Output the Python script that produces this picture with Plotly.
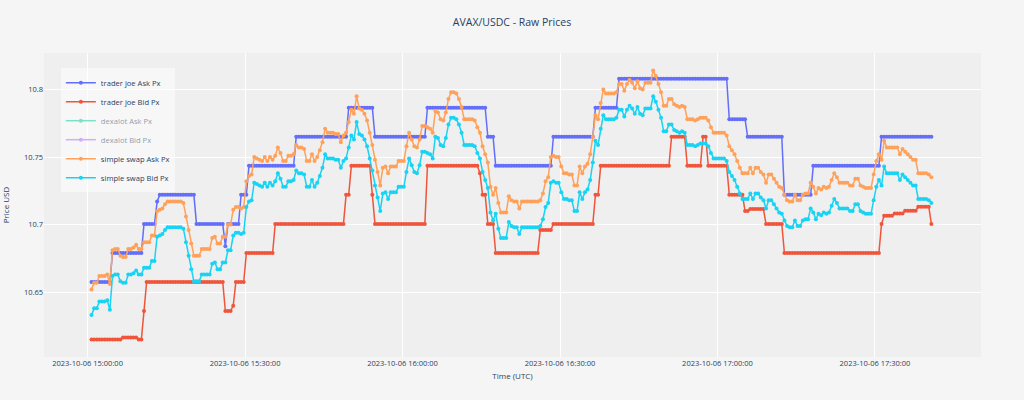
import pandas as pd
import plotly.graph_objects as go

# ---- data ----
start_time = "2023-10-06 15:00:45"
sample_step = "30s"

trader_joe_ask = ([10.6575]*8 + [10.679]*12 + [10.7005]*5 + [10.717] + [10.722]*14 +
                  [10.7005]*11 + [10.684] + [10.7005]*5 + [10.722]*3 + [10.7435]*18 +
                  [10.765]*20 + [10.7865]*10 + [10.765]*20 + [10.7865]*23 + [10.765]*3 +
                  [10.7435]*22 + [10.765]*16 + [10.7865]*9 + [10.808]*42 + [10.778]*7 +
                  [10.765]*14 + [10.722]*11 + [10.7435]*26 + [10.765]*20)

trader_joe_bid = ([10.615]*12 + [10.6165]*6 + [10.615]*2 + [10.636] + [10.6575]*30 +
                  [10.636]*3 + [10.640] + [10.6575]*4 + [10.679]*11 + [10.7005]*27 +
                  [10.722]*2 + [10.7435]*8 + [10.722] + [10.7005]*20 + [10.7435]*20 +
                  [10.738] + [10.722]*2 + [10.7005]*3 + [10.679]*17 + [10.696]*5 +
                  [10.7005]*16 + [10.722]*2 + [10.7435]*27 + [10.765]*6 + [10.7435]*6 +
                  [10.765]*2 + [10.7435]*8 + [10.722]*6 + [10.710]*2 + [10.7115]*6 +
                  [10.7005]*7 + [10.679]*37 + [10.7005] + [10.7066]*4 + [10.7083]*4 +
                  [10.7103]*5 + [10.7132]*5 + [10.7005])

simple_swap_ask = [
    10.652, 10.657, 10.657, 10.662, 10.662, 10.662, 10.663, 10.656, 10.681, 10.682,
    10.682, 10.677, 10.676, 10.676, 10.682, 10.682, 10.683, 10.685, 10.682, 10.682,
    10.687, 10.687, 10.687, 10.692, 10.692, 10.710, 10.711, 10.712, 10.715, 10.717,
    10.717, 10.717, 10.717, 10.717, 10.717, 10.716, 10.706, 10.696, 10.686, 10.677,
    10.677, 10.677, 10.682, 10.682, 10.682, 10.682, 10.690, 10.691, 10.686, 10.686,
    10.691, 10.691, 10.700, 10.700, 10.711, 10.713, 10.713, 10.712, 10.713, 10.732,
    10.736, 10.737, 10.750, 10.749, 10.748, 10.747, 10.750, 10.747, 10.750, 10.748,
    10.751, 10.757, 10.753, 10.747, 10.747, 10.751, 10.751, 10.752, 10.759, 10.757,
    10.757, 10.756, 10.747, 10.747, 10.752, 10.747, 10.750, 10.755, 10.761, 10.771,
    10.768, 10.768, 10.768, 10.767, 10.767, 10.761, 10.766, 10.768, 10.776, 10.785,
    10.782, 10.795, 10.786, 10.785, 10.782, 10.777, 10.768, 10.759, 10.748, 10.739,
    10.729, 10.742, 10.743, 10.738, 10.743, 10.743, 10.743, 10.747, 10.747, 10.747,
    10.758, 10.768, 10.763, 10.758, 10.757, 10.763, 10.773, 10.773, 10.772, 10.771,
    10.768, 10.784, 10.783, 10.778, 10.777, 10.783, 10.793, 10.798, 10.798, 10.797,
    10.793, 10.787, 10.778, 10.778, 10.778, 10.778, 10.777, 10.772, 10.768, 10.758,
    10.752, 10.746, 10.728, 10.722, 10.727, 10.716, 10.709, 10.709, 10.709, 10.721,
    10.718, 10.717, 10.717, 10.712, 10.717, 10.717, 10.717, 10.717, 10.717, 10.717,
    10.717, 10.718, 10.723, 10.732, 10.735, 10.750, 10.751, 10.750, 10.750, 10.743,
    10.738, 10.738, 10.737, 10.737, 10.729, 10.729, 10.743, 10.738, 10.743, 10.745,
    10.752, 10.765, 10.781, 10.778, 10.790, 10.800, 10.797, 10.797, 10.797, 10.797,
    10.798, 10.804, 10.804, 10.799, 10.804, 10.807, 10.805, 10.801, 10.806, 10.801,
    10.800, 10.805, 10.805, 10.805, 10.814, 10.810, 10.804, 10.798, 10.788, 10.788,
    10.793, 10.793, 10.789, 10.788, 10.787, 10.788, 10.787, 10.778, 10.778, 10.778,
    10.777, 10.778, 10.779, 10.779, 10.779, 10.777, 10.772, 10.768, 10.768, 10.768,
    10.768, 10.768, 10.766, 10.758, 10.755, 10.752, 10.747, 10.742, 10.738, 10.738,
    10.738, 10.742, 10.738, 10.742, 10.742, 10.739, 10.737, 10.731, 10.737, 10.737,
    10.734, 10.731, 10.728, 10.727, 10.722, 10.718, 10.717, 10.717, 10.722, 10.718,
    10.718, 10.722, 10.723, 10.723, 10.731, 10.728, 10.723, 10.727, 10.726, 10.728,
    10.727, 10.728, 10.733, 10.738, 10.735, 10.731, 10.731, 10.731, 10.731, 10.729,
    10.729, 10.734, 10.734, 10.729, 10.728, 10.727, 10.727, 10.727, 10.737, 10.747,
    10.752, 10.748, 10.762, 10.757, 10.757, 10.757, 10.757, 10.757, 10.752, 10.756,
    10.754, 10.752, 10.750, 10.748, 10.748, 10.738, 10.738, 10.738, 10.738, 10.737,
    10.735,
]

simple_swap_bid = [
    10.633, 10.638, 10.638, 10.643, 10.643, 10.643, 10.644, 10.637, 10.662, 10.663,
    10.663, 10.658, 10.657, 10.657, 10.663, 10.663, 10.664, 10.666, 10.663, 10.663,
    10.668, 10.668, 10.668, 10.673, 10.673, 10.691, 10.692, 10.693, 10.696, 10.698,
    10.698, 10.698, 10.698, 10.698, 10.698, 10.697, 10.687, 10.677, 10.667, 10.658,
    10.658, 10.658, 10.663, 10.663, 10.663, 10.663, 10.671, 10.672, 10.667, 10.667,
    10.672, 10.672, 10.681, 10.681, 10.692, 10.694, 10.694, 10.693, 10.694, 10.713,
    10.717, 10.718, 10.731, 10.730, 10.729, 10.728, 10.731, 10.728, 10.731, 10.729,
    10.732, 10.738, 10.734, 10.728, 10.728, 10.732, 10.732, 10.733, 10.740, 10.738,
    10.738, 10.737, 10.728, 10.728, 10.733, 10.728, 10.731, 10.736, 10.742, 10.752,
    10.749, 10.749, 10.749, 10.748, 10.748, 10.742, 10.747, 10.749, 10.757, 10.766,
    10.763, 10.776, 10.767, 10.766, 10.763, 10.758, 10.749, 10.740, 10.729, 10.720,
    10.710, 10.723, 10.724, 10.719, 10.724, 10.724, 10.724, 10.728, 10.728, 10.728,
    10.739, 10.749, 10.744, 10.739, 10.738, 10.744, 10.754, 10.754, 10.753, 10.752,
    10.749, 10.765, 10.764, 10.759, 10.758, 10.764, 10.774, 10.779, 10.779, 10.778,
    10.774, 10.768, 10.759, 10.759, 10.759, 10.759, 10.758, 10.753, 10.749, 10.739,
    10.733, 10.727, 10.709, 10.703, 10.708, 10.697, 10.690, 10.690, 10.690, 10.702,
    10.699, 10.698, 10.698, 10.693, 10.698, 10.698, 10.698, 10.698, 10.698, 10.698,
    10.698, 10.699, 10.704, 10.713, 10.716, 10.731, 10.732, 10.731, 10.731, 10.724,
    10.719, 10.719, 10.718, 10.718, 10.710, 10.710, 10.724, 10.719, 10.724, 10.726,
    10.733, 10.746, 10.762, 10.759, 10.771, 10.781, 10.778, 10.778, 10.778, 10.778,
    10.779, 10.785, 10.785, 10.780, 10.785, 10.788, 10.786, 10.782, 10.787, 10.782,
    10.781, 10.786, 10.786, 10.786, 10.795, 10.791, 10.785, 10.779, 10.769, 10.769,
    10.774, 10.774, 10.770, 10.769, 10.768, 10.769, 10.768, 10.759, 10.759, 10.759,
    10.758, 10.759, 10.760, 10.760, 10.760, 10.758, 10.753, 10.749, 10.749, 10.749,
    10.749, 10.749, 10.747, 10.739, 10.736, 10.733, 10.728, 10.723, 10.719, 10.719,
    10.719, 10.723, 10.719, 10.723, 10.723, 10.720, 10.718, 10.712, 10.718, 10.718,
    10.715, 10.712, 10.709, 10.708, 10.703, 10.699, 10.698, 10.698, 10.703, 10.699,
    10.699, 10.703, 10.704, 10.704, 10.712, 10.709, 10.704, 10.708, 10.707, 10.709,
    10.708, 10.709, 10.714, 10.719, 10.716, 10.712, 10.712, 10.712, 10.712, 10.710,
    10.710, 10.715, 10.715, 10.710, 10.709, 10.708, 10.708, 10.708, 10.718, 10.728,
    10.733, 10.729, 10.743, 10.738, 10.738, 10.738, 10.738, 10.738, 10.733, 10.737,
    10.735, 10.733, 10.731, 10.729, 10.729, 10.719, 10.719, 10.719, 10.719, 10.718,
    10.716,
]

# dexalot series are hidden (legend only) in the reference; their values are not visible
dexalot_ask = [None] * len(simple_swap_ask)
dexalot_bid = [None] * len(simple_swap_ask)

series_names = ["trader joe Ask Px", "trader joe Bid Px", "dexalot Ask Px",
                "dexalot Bid Px", "simple swap Ask Px", "simple swap Bid Px"]
series_values = [trader_joe_ask, trader_joe_bid, dexalot_ask, dexalot_bid,
                 simple_swap_ask, simple_swap_bid]
series_colors = ["#636efa", "#EF553B", "#00cc96", "#ab63fa", "#FFA15A", "#19d3f3"]
series_visible = [True, True, "legendonly", "legendonly", True, True]

times = pd.date_range(start_time, periods=len(simple_swap_ask), freq=sample_step)

fig = go.Figure()
for name, vals, color, vis in zip(series_names, series_values, series_colors, series_visible):
    fig.add_trace(go.Scatter(
        x=times[:len(vals)], y=vals, name=name, mode="lines+markers",
        line=dict(color=color, width=1.5),
        marker=dict(color=color, size=4),
        visible=vis,
    ))

fig.update_layout(
    width=1024, height=400,
    margin=dict(l=44, r=43, t=53, b=43, autoexpand=False),
    paper_bgcolor="#f5f5f5",
    plot_bgcolor="#efefef",
    font=dict(family="Open Sans, verdana, arial, sans-serif", size=7.5, color="#2a3f5f"),
    title=dict(text="AVAX/USDC - Raw Prices", x=0.5, xanchor="center",
               y=0.945, yanchor="middle", font=dict(size=10.5)),
    legend=dict(x=0.018, y=0.95, xanchor="left", yanchor="top",
                bgcolor="rgba(255,255,255,0.5)", font=dict(size=7.6)),
    showlegend=True,
)
fig.update_xaxes(
    title=dict(text="Time (UTC)", font=dict(size=8), standoff=6),
    type="date",
    range=["2023-10-06 14:51:42", "2023-10-06 17:50:12"],
    tickformat="%Y-%m-%d %H:%M:%S",
    tick0="2023-10-06 15:00:00", dtick=1800000,
    gridcolor="white", gridwidth=1, zeroline=False, showline=False,
)
fig.update_yaxes(
    title=dict(text="Price USD", font=dict(size=8)),
    range=[10.602, 10.827],
    tick0=10.65, dtick=0.05,
    gridcolor="white", gridwidth=1, zeroline=False, showline=False,
)

fig.write_html(
    "out.html",
    config={"displayModeBar": False},
    post_script="document.body.style.margin='0px';document.body.style.overflow='hidden';",
)
